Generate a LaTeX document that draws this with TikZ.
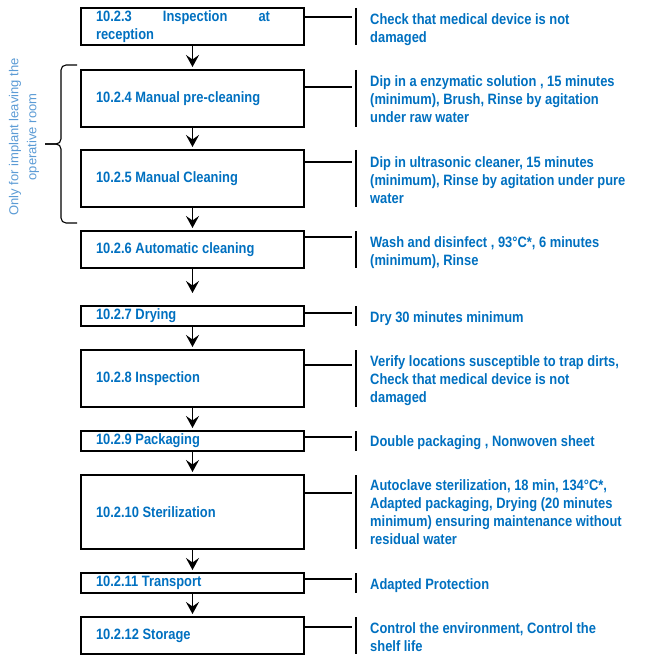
\documentclass[tikz,border=0pt]{standalone}
\usepackage{fontspec}
\setmainfont{Liberation Sans}
\newfontfamily\stepfont[FakeStretch=0.86]{Liberation Sans}
\usetikzlibrary{positioning,arrows.meta,calc}
\definecolor{stepblue}{RGB}{0,112,192}
\definecolor{noteblue}{RGB}{91,155,213}
\tikzset{
  stepbox/.style={draw=black, line width=1.6pt, outer sep=0pt, minimum width=223pt,
    text width=193pt, inner xsep=15pt, inner ysep=0pt, align=flush left, text=stepblue,
    font=\stepfont\bfseries\fontsize{15}{18}\selectfont},
  notetext/.style={anchor=north west, inner sep=0pt, align=left, text=stepblue,
    font=\stepfont\bfseries\fontsize{15}{18}\selectfont},
  flow/.style={-{Stealth[length=12pt,width=13pt,inset=4.5pt]}, line width=1.6pt, shorten >=3pt},
  tie/.style={line width=1.1pt}
}

\begin{document}
\begin{tikzpicture}[x=1pt, y=-1pt, node distance=24pt]
    \useasboundingbox (0,0) rectangle (668,655);

    % process steps
    \node[stepbox, anchor=north west, minimum height=37pt] (s3) at (81,8)
        {\makebox[174pt][s]{10.2.3\hfill Inspection\hfill at}\\reception};
    \node[stepbox, minimum height=57pt, below=25pt of s3] (s4) {10.2.4 Manual pre-cleaning};
    \node[stepbox, minimum height=57pt, below=23pt of s4] (s5) {10.2.5 Manual Cleaning};
    \node[stepbox, minimum height=37pt, below=of s5] (s6) {10.2.6 Automatic cleaning};
    \node[stepbox, minimum height=20pt, below=38pt of s6] (s7) {10.2.7 Drying};
    \node[stepbox, minimum height=57pt, below=of s7] (s8) {10.2.8 Inspection};
    \node[stepbox, minimum height=20pt, below=of s8] (s9) {10.2.9 Packaging};
    \node[stepbox, minimum height=74pt, below=of s9] (s10) {10.2.10 Sterilization};
    \node[stepbox, minimum height=20pt, below=of s10] (s11) {10.2.11 Transport};
    \node[stepbox, minimum height=37pt, below=of s11] (s12) {10.2.12 Storage};

    % comments on the right
    \node[notetext] (c3) at ([shift={(66pt,-5pt)}]s3.north east)
        {Check that medical device is not\\damaged};
    \node[notetext] (c4) at ([shift={(66pt,-5pt)}]s4.north east)
        {Dip in a enzymatic solution , 15 minutes\\(minimum), Brush, Rinse by agitation\\under raw water};
    \node[notetext] (c5) at ([shift={(66pt,-6pt)}]s5.north east)
        {Dip in ultrasonic cleaner, 15 minutes\\(minimum), Rinse by agitation under pure\\water};
    \node[notetext] (c6) at ([shift={(66pt,-5pt)}]s6.north east)
        {Wash and disinfect , 93°C*, 6 minutes\\(minimum), Rinse};
    \node[notetext] (c7) at ([shift={(66pt,-5pt)}]s7.north east) {Dry 30 minutes minimum};
    \node[notetext] (c8) at ([shift={(66pt,-5pt)}]s8.north east)
        {Verify locations susceptible to trap dirts,\\Check that medical device is not\\damaged};
    \node[notetext] (c9) at ([shift={(66pt,-4pt)}]s9.north east) {Double packaging , Nonwoven sheet};
    \node[notetext] (c10) at ([shift={(66pt,-4pt)}]s10.north east)
        {Autoclave sterilization, 18 min, 134°C*,\\Adapted packaging, Drying (20 minutes\\minimum) ensuring maintenance without\\residual water};
    \node[notetext] (c11) at ([shift={(66pt,-5pt)}]s11.north east) {Adapted Protection};
    \node[notetext] (c12) at ([shift={(66pt,-5pt)}]s12.north east)
        {Control the environment, Control the\\shelf life};

    % step to step
    \draw[flow] (s3.south) -- (s4.north);
    \draw[flow] (s4.south) -- (s5.north);
    \draw[flow] (s5.south) -- (s6.north);
    \draw[flow, shorten >=13pt] (s6.south) -- (s7.north);
    \draw[flow] (s7.south) -- (s8.north);
    \draw[flow] (s8.south) -- (s9.north);
    \draw[flow] (s9.south) -- (s10.north);
    \draw[flow] (s10.south) -- (s11.north);
    \draw[flow] (s11.south) -- (s12.north);

    % ties to the comments
    \draw[tie] ([yshift=-9pt]s3.north east) -- ++(48pt,0) ([xshift=52pt]s3.north east) -- ([xshift=52pt]s3.south east);
    \draw[tie] ([yshift=-17pt]s4.north east) -- ++(48pt,0) ([xshift=52pt]s4.north east) -- ([xshift=52pt]s4.south east);
    \draw[tie] ([yshift=-12pt]s5.north east) -- ++(48pt,0) ([xshift=52pt]s5.north east) -- ([xshift=52pt]s5.south east);
    \draw[tie] ([yshift=-6pt]s6.north east) -- ++(48pt,0) ([xshift=52pt]s6.north east) -- ([xshift=52pt]s6.south east);
    \draw[tie] ([yshift=-7pt]s7.north east) -- ++(48pt,0) ([xshift=52pt]s7.north east) -- ([xshift=52pt]s7.south east);
    \draw[tie] ([yshift=-15pt]s8.north east) -- ++(48pt,0) ([xshift=52pt]s8.north east) -- ([xshift=52pt]s8.south east);
    \draw[tie] ([yshift=-6pt]s9.north east) -- ++(48pt,0) ([xshift=52pt]s9.north east) -- ([xshift=52pt]s9.south east);
    \draw[tie] ([yshift=-18pt]s10.north east) -- ++(48pt,0) ([xshift=52pt]s10.north east) -- ([xshift=52pt]s10.south east);
    \draw[tie] ([yshift=-6pt]s11.north east) -- ++(48pt,0) ([xshift=52pt]s11.north east) -- ([xshift=52pt]s11.south east);
    \draw[tie] ([yshift=-10pt]s12.north east) -- ++(48pt,0) ([xshift=52pt]s12.north east) -- ([xshift=52pt]s12.south east);

    % brace for the implant steps
    \coordinate (brtop) at (77,65);
    \coordinate (brbot) at (77,223);
    \coordinate (brtip) at (45,144);
    \draw[line width=1.1pt, rounded corners=5pt] (brtop) -- (61,65) -- (61,144) -- (brtip);
    \draw[line width=1.1pt, rounded corners=5pt] (brtip) -- (61,144) -- (61,223) -- (brbot);
    \node[rotate=90, align=center, text=noteblue, font=\fontsize{13}{18}\selectfont] (only)
        at (24,137) {Only for implant leaving the\\operative room};
\end{tikzpicture}
\end{document}
